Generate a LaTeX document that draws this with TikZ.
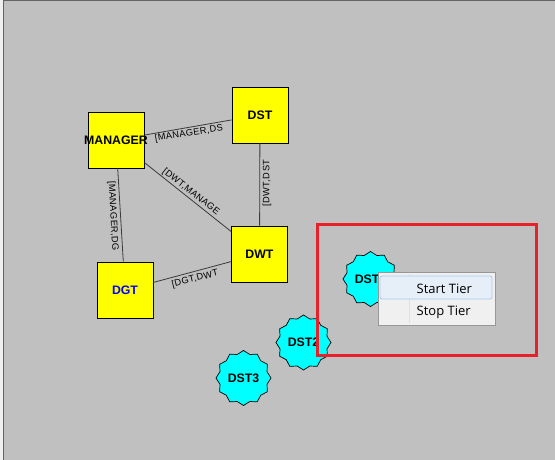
\documentclass[tikz,border=0pt]{standalone}
\usepackage{fontspec}
\setmainfont{Liberation Sans}
\newfontfamily\menufont{Open Sans}
\newfontfamily\labelfont[LetterSpace=4]{Liberation Sans}
\usetikzlibrary{shapes.geometric}
\definecolor{bg}{HTML}{C0C0C0}
\definecolor{frameline}{HTML}{646464}
\definecolor{edgecol}{HTML}{3A3A3A}
\definecolor{redbox}{HTML}{E8202A}
\definecolor{menubg}{HTML}{F0F0F0}
\definecolor{menuborder}{HTML}{979797}
\definecolor{hlfill}{HTML}{E6EEF8}
\definecolor{hlborder}{HTML}{A8CAF0}
\definecolor{sepcol}{HTML}{E0E0E0}
\definecolor{aqua}{HTML}{00FFFF}
\definecolor{ylw}{HTML}{FFFF00}
\definecolor{txtblue}{HTML}{0000FF}
\tikzset{
  box/.style={draw=black, line width=0.8pt, fill=ylw, minimum size=56pt, inner sep=0pt},
  boxtext/.style={font=\fontsize{12.3}{14}\selectfont\bfseries, inner sep=0pt},
  starnode/.style={star, star points=12, star point ratio=1.13, draw=black, line width=0.7pt, fill=aqua, minimum size=55pt, inner sep=0pt, font=\fontsize{12.3}{14}\selectfont\bfseries},
  conn/.style={draw=edgecol, line width=0.8pt},
  elabel/.style={font=\labelfont\fontsize{9.3}{11}\selectfont, text=black, inner sep=0pt},
  menutext/.style={font=\menufont\fontsize{13}{15}\selectfont, anchor=west, inner sep=0pt}
}
\begin{document}
\begin{tikzpicture}[x=1pt,y=-1pt]
\useasboundingbox (0,0) rectangle (555,460);
\fill[menubg] (0,0) rectangle (555,460);
\fill[bg] (3,1) rectangle (555,460);
\draw[frameline, line width=1pt] (3.5,460) -- (3.5,0.5) -- (555,0.5);

% boxes
\node[box, label={[boxtext]center:MANAGER}] (mgr) at (116,140) {};
\node[box, label={[boxtext]center:DST}] (dst) at (260,115) {};
\node[box, label={[boxtext]center:DWT}] (dwt) at (259.5,254) {};
\node[box, label={[boxtext, text=txtblue]center:DGT}] (dgt) at (125,290) {};

% connectors
\draw[conn] (mgr) -- (dst);
\draw[conn] (mgr) -- (dgt);
\draw[conn] (mgr) -- (dwt);
\draw[conn] (dst) -- (dwt);
\draw[conn] (dgt) -- (dwt);

% connector labels
\node[elabel, rotate=9] (l1) at (189,133.5) {[MANAGER,DS};
\node[elabel, rotate=-87] (l2) at (113,216) {[MANAGER,DG};
\node[elabel, rotate=-38] (l3) at (191,192) {[DWT,MANAGE};
\node[elabel, rotate=90] (l4) at (267,183) {[DWT,DST};
\node[elabel, rotate=14] (l5) at (195,279) {[DGT,DWT};

% star nodes
\node[starnode] (dst3) at (243.5,378) {DST3};
\node[starnode] (dst2) at (303.5,342.5) {DST2};
\node[starnode] (dst1) at (370.5,279) {DST1};

% context menu
\node[draw=menuborder, fill=menubg, line width=0.8pt, minimum width=117pt, minimum height=53pt, inner sep=0pt] (menu) at (436.5,298.5) {};
\draw[sepcol, line width=0.8pt] (409,274) -- (409,323);
\node[draw=hlborder, fill=hlfill, rounded corners=2pt, line width=0.8pt, minimum width=112pt, minimum height=23pt, inner sep=0pt] (hl) at (436,287.5) {};
\node[menutext] (start) at (416.5,289) {Start Tier};
\node[menutext] (stop) at (416.5,312.5) {Stop Tier};

% red highlight frame
\node[draw=redbox, line width=3pt, minimum width=219pt, minimum height=131pt, inner sep=0pt] (frame) at (426.5,289.5) {};
\end{tikzpicture}
\end{document}
